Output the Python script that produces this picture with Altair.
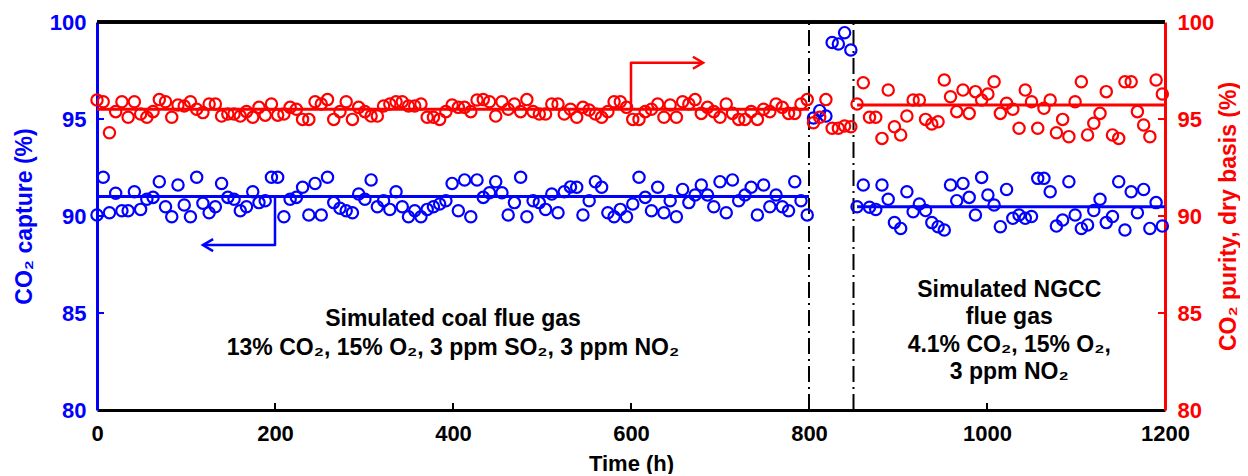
import altair as alt
import pandas as pd

FONT = "Liberation Sans"
BLUE = "#0000FF"
RED = "#FF0000"
BLACK = "#000000"

# ---------------- data ----------------
coal_time = [0, 7, 14, 21, 28, 35, 42, 49, 56, 63, 70, 77, 84, 91, 98, 105, 112, 119, 126, 133,
             140, 147, 154, 161, 168, 175, 182, 189, 196, 203, 210, 217, 224, 231, 238, 245, 252,
             259, 266, 273, 280, 287, 294, 301, 308, 315, 322, 329, 336, 343, 350, 357, 364, 371,
             378, 385, 392, 399, 406, 413, 420, 427, 434, 441, 448, 455, 462, 469, 476, 483, 490,
             497, 504, 511, 518, 525, 532, 539, 546, 553, 560, 567, 574, 581, 588, 595, 602, 609,
             616, 623, 630, 637, 644, 651, 658, 665, 672, 679, 686, 693, 700, 707, 714, 721, 728,
             735, 742, 749, 756, 763, 770, 777, 784, 791, 798]
coal_capture = [90.05, 92.0, 90.17, 91.17, 90.27, 90.27, 91.25, 90.34, 90.86, 90.96, 91.77, 90.48,
                89.96, 91.6, 90.57, 89.96, 92.0, 90.66, 90.17, 90.48, 91.68, 90.96, 90.86, 90.27,
                90.48, 91.25, 90.69, 90.79, 92.0, 92.0, 89.96, 90.86, 90.96, 91.48, 90.05, 91.68,
                90.05, 92.0, 90.69, 90.4, 90.27, 90.17, 91.13, 90.86, 91.86, 90.48, 90.79, 90.34,
                91.25, 90.48, 89.96, 90.27, 89.96, 90.34, 90.48, 90.62, 90.79,
                91.68, 90.27, 91.86, 89.96, 91.86, 90.96, 91.2, 91.77, 91.2, 90.05, 90.69, 92.0,
                89.96, 90.79, 90.69, 90.34, 91.13, 90.17, 91.25, 91.5, 91.48, 90.05, 90.79, 91.77,
                91.48, 90.17, 89.96, 90.34, 89.96, 90.62, 92.0, 90.96, 90.27, 91.48, 90.17, 90.79,
                89.96, 91.37, 90.69, 91.08, 91.6, 91.08, 90.48, 91.77, 90.17, 91.86, 90.79, 91.08,
                91.48, 90.05, 91.6, 90.48, 91.08, 90.48, 90.27, 91.77, 90.79, 90.05]
coal_purity = [95.98, 95.89, 94.29, 95.38, 95.89, 95.09, 95.89, 95.26, 95.09, 95.38, 96.0, 95.89,
               95.09, 95.72, 95.67, 95.89, 95.5, 95.33, 95.77, 95.77, 95.15, 95.26, 95.26, 95.15,
               95.38, 95.09, 95.6, 95.2, 95.77, 95.2, 95.26, 95.6, 95.5, 94.98, 94.98, 95.89,
               95.77, 96.0, 94.98, 95.38, 95.89, 94.98, 95.6, 95.38, 95.15, 95.15, 95.67, 95.77,
               95.89, 95.89, 95.67, 95.67, 95.77, 95.09, 95.09, 94.98, 95.38,
               95.72, 95.6, 95.6, 95.38, 95.98, 96.0, 95.89, 95.15, 95.89, 95.5, 95.77, 95.38,
               96.0, 95.38, 95.26, 95.26, 95.77, 95.77, 95.26, 95.5, 95.09, 95.6, 95.46, 95.26,
               95.09, 95.38, 95.89, 95.89, 95.6, 94.98, 94.98, 95.38, 95.5, 95.77, 95.09, 95.72,
               95.09, 95.89, 95.77, 96.0, 95.29, 95.6, 95.38, 95.09, 95.77, 95.29, 94.98, 94.98,
               95.38, 94.98, 95.5, 95.38, 95.77, 95.6, 95.29, 95.29, 95.77, 96.0]

trans_time = [805, 812, 819, 826, 833, 840, 847]
trans_capture = [95.05, 95.43, 95.15, 98.94, 98.87, 99.45, 98.56]
trans_purity = [94.81, 95.09, 96.0, 94.52, 94.52, 94.64, 94.6]

ngcc_time = [854, 861, 868, 875, 882, 889, 896, 903, 910, 917, 924, 931, 938, 945, 952, 959, 966,
             973, 980, 987, 994, 1001, 1008, 1015, 1022, 1029, 1036, 1043, 1050, 1057, 1064, 1071,
             1078, 1085, 1092, 1099, 1106, 1113, 1120, 1127, 1134, 1141, 1148, 1155, 1162, 1169,
             1176, 1183, 1190, 1197]
ngcc_capture = [90.48, 91.6, 90.45, 90.34, 91.6, 90.86, 89.66, 89.36, 91.25, 90.22, 90.62, 90.28,
                89.66, 89.45, 89.28, 91.6, 90.79, 91.68, 90.96, 90.05, 91.99, 91.08, 90.57, 89.45,
                91.37, 89.88, 90.05, 89.88, 89.97, 91.94, 91.94, 91.25, 89.48, 89.79, 91.77, 90.05,
                89.36, 89.54, 90.28, 90.86, 89.66, 89.97, 91.77, 89.28, 91.25, 90.17, 91.37, 89.36,
                90.69, 89.48]
ngcc_purity = [95.77, 96.87, 95.09, 95.09, 94.0, 96.49, 94.6, 94.18, 95.15, 95.98, 95.98, 94.98,
               94.74, 94.86, 97.01, 96.15, 95.38, 96.49, 95.29, 96.41, 95.98, 96.29, 96.92, 95.29,
               95.81, 95.5, 94.52, 96.49, 95.89, 94.52, 95.55, 95.98, 94.29, 94.98, 94.09, 95.89,
               96.92, 94.18, 94.78, 95.29, 96.41, 94.18, 94.0, 96.92, 96.92, 95.38, 94.69, 94.09,
               97.01, 96.29]

avg_start = [0, 854]
avg_end = [800, 1200]
avg_capture = [91.0, 90.48]
avg_purity = [95.5, 95.72]

switch_times = [800, 850]

arrow_blue_t = [200, 200, 121]
arrow_blue_v = [91.0, 88.5, 88.5]
arrow_red_t = [600, 600, 679]
arrow_red_v = [95.5, 97.9, 97.9]

x_tick_values = [0, 200, 400, 600, 800, 1000, 1200]
y_tick_values = [80, 85, 90, 95, 100]
x_inner_ticks = [200, 400, 600, 800, 1000]
y_inner_ticks = [85, 90, 95]

text_t = [400, 400, 1025, 1025, 1025, 1025]
text_v = [84.7, 83.2, 86.19, 84.79, 83.35, 81.96]
text_lines = ["Simulated coal flue gas",
              "13% CO\u2082, 15% O\u2082, 3 ppm SO\u2082, 3 ppm NO\u2082",
              "Simulated NGCC",
              "flue gas",
              "4.1% CO\u2082, 15% O\u2082,",
              "3 ppm NO\u2082"]

# ---------------- tables ----------------
blue_df = pd.DataFrame({"t": coal_time + trans_time + ngcc_time,
                        "v": coal_capture + trans_capture + ngcc_capture})
red_df = pd.DataFrame({"t": coal_time + trans_time + ngcc_time,
                       "v": coal_purity + trans_purity + ngcc_purity})
avg_blue_df = pd.DataFrame({"t": avg_start, "t2": avg_end, "v": avg_capture})
avg_red_df = pd.DataFrame({"t": avg_start, "t2": avg_end, "v": avg_purity})
switch_df = pd.DataFrame({"t": switch_times, "v": [80] * 2, "v2": [100] * 2})
arrow_blue_df = pd.DataFrame({"t": arrow_blue_t, "v": arrow_blue_v, "i": [0, 1, 2]})
arrow_red_df = pd.DataFrame({"t": arrow_red_t, "v": arrow_red_v, "i": [0, 1, 2]})
head_blue_df = pd.DataFrame({"t": [119], "v": [88.5]})
head_red_df = pd.DataFrame({"t": [681], "v": [97.9]})
xt_df = pd.DataFrame({"t": x_inner_ticks})
yt_df = pd.DataFrame({"v": y_inner_ticks})
text_df = pd.DataFrame({"t": text_t, "v": text_v, "label": text_lines})

W, H = 1068, 388

x_axis = alt.Axis(values=x_tick_values, format="d", title="Time (h)", grid=False, ticks=False,
                  tickSize=0, domainColor=BLACK, domainWidth=3, labelColor=BLACK, labelFont=FONT,
                  labelFontSize=22, labelFontWeight="bold", labelPadding=13, labelFlush=False,
                  labelOverlap=False, titleFont=FONT, titleFontSize=22, titleFontWeight="bold",
                  titleColor=BLACK, titleX=W / 2, titleY=60, titleBaseline="alphabetic",
                  titleAlign="center")
x_enc = alt.X("t:Q", scale=alt.Scale(domain=[0, 1200], nice=False, zero=False), axis=x_axis)
x2_enc = alt.X2("t2")

left_axis = alt.Axis(orient="left", values=y_tick_values, title="CO\u2082 capture (%)", grid=False,
                     ticks=False, tickSize=0, domainColor=BLUE, domainWidth=3, labelColor=BLUE,
                     labelFont=FONT, labelFontSize=22, labelFontWeight="bold", labelPadding=11,
                     labelFlush=False, labelOverlap=False, titleFont=FONT, titleFontSize=23,
                     titleFontWeight="bold", titleColor=BLUE, titleAngle=270, titleX=-66,
                     titleY=H / 2, titleBaseline="alphabetic", titleAlign="center")
right_axis = alt.Axis(orient="right", values=y_tick_values, title="CO\u2082 purity, dry basis (%)",
                      grid=False, ticks=False, tickSize=0, domainColor=RED, domainWidth=3,
                      labelColor=RED, labelFont=FONT, labelFontSize=22, labelFontWeight="bold",
                      labelPadding=12, labelFlush=False, labelOverlap=False, titleFont=FONT,
                      titleFontSize=23, titleFontWeight="bold", titleColor=RED, titleAngle=270,
                      titleX=70, titleY=H / 2, titleBaseline="alphabetic", titleAlign="center")
yscale = alt.Scale(domain=[80, 100], nice=False, zero=False)
yl = alt.Y("v:Q", scale=yscale, axis=left_axis)
yr = alt.Y("v:Q", scale=yscale, axis=right_axis)

# ---------------- blue (left axis) group ----------------
avg_blue = alt.Chart(avg_blue_df).mark_rule(color=BLUE, strokeWidth=3).encode(x=x_enc, x2=x2_enc, y=yl)
arrow_blue = alt.Chart(arrow_blue_df).mark_line(color=BLUE, strokeWidth=2.5, strokeJoin="round").encode(
    x=x_enc, y=yl, order="i:Q")
head_blue = alt.Chart(head_blue_df).mark_point(shape="M1.7,-1L0,0L1.7,1", size=144, filled=False,
                                                color=BLUE, strokeWidth=2.5, opacity=1).encode(x=x_enc, y=yl)
pts_blue = alt.Chart(blue_df).mark_point(shape="circle", size=128, filled=False, color=BLUE,
                                          strokeWidth=2.2, opacity=1).encode(x=x_enc, y=yl)
switch = alt.Chart(switch_df).mark_rule(color=BLACK, strokeWidth=2, strokeDash=[16, 5, 2, 5]).encode(
    x=x_enc, y=yl, y2=alt.Y2("v2"))
left_ticks = alt.Chart(yt_df).mark_rule(color=BLUE, strokeWidth=2).encode(
    y=yl, x=alt.value(0), x2=alt.value(7))
bottom_ticks = alt.Chart(xt_df).mark_rule(color=BLACK, strokeWidth=2).encode(
    x=x_enc, y=alt.value(H), y2=alt.value(H - 7))
top_border = alt.Chart(xt_df).mark_rule(color=BLACK, strokeWidth=3).encode(
    x=alt.value(0), x2=alt.value(W), y=alt.value(0))
texts = alt.Chart(text_df).mark_text(font=FONT, fontSize=23, fontWeight="bold", color=BLACK,
                                     align="center", baseline="middle").encode(
    x=x_enc, y=yl, text="label:N")

blue_group = alt.layer(top_border, bottom_ticks, left_ticks, switch, avg_blue, arrow_blue,
                       head_blue, pts_blue, texts)

# ---------------- red (right axis) group ----------------
avg_red = alt.Chart(avg_red_df).mark_rule(color=RED, strokeWidth=3).encode(x=x_enc, x2=x2_enc, y=yr)
arrow_red = alt.Chart(arrow_red_df).mark_line(color=RED, strokeWidth=2.5, strokeJoin="round").encode(
    x=x_enc, y=yr, order="i:Q")
head_red = alt.Chart(head_red_df).mark_point(shape="M-1.7,-1L0,0L-1.7,1", size=144, filled=False,
                                              color=RED, strokeWidth=2.5, opacity=1).encode(x=x_enc, y=yr)
pts_red = alt.Chart(red_df).mark_point(shape="circle", size=128, filled=False, color=RED,
                                        strokeWidth=2.2, opacity=1).encode(x=x_enc, y=yr)
right_ticks = alt.Chart(yt_df).mark_rule(color=RED, strokeWidth=2).encode(
    y=yr, x=alt.value(W - 7), x2=alt.value(W))

red_group = alt.layer(right_ticks, avg_red, arrow_red, head_red, pts_red)

chart = alt.layer(blue_group, red_group).resolve_scale(y="independent").properties(
    width=W, height=H, autosize="none",
    padding={"left": 89, "top": 14, "right": 75, "bottom": 64},
    background="white",
).configure_view(stroke=None)

chart.save("out.html", embed_options={"renderer": "svg", "actions": False})
